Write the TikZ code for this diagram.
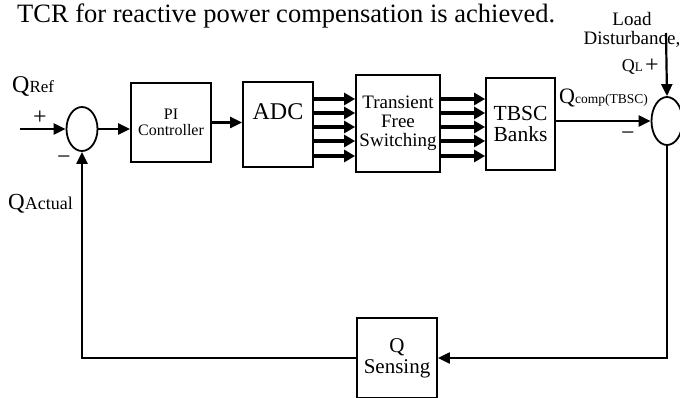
\documentclass[tikz,border=0pt]{standalone}
\usepackage{fontspec}
\setmainfont{Liberation Serif}
\usetikzlibrary{shapes.geometric}
\usetikzlibrary{arrows.meta}

\newcommand{\fsz}[1]{\fontsize{#1}{#1}\selectfont}
\newcommand{\qlabel}[3]{{\fsz{#1}Q}{\fsz{#2}#3}}

\begin{document}
\begin{tikzpicture}[x=1pt, y=-1pt,
            block/.style={draw=black, line width=1.8pt, align=center, inner sep=0pt},
            sumnode/.style={draw=black, ellipse, line width=1.8pt, inner sep=0pt, minimum width=31pt},
            signal/.style={line width=2.2pt, -{Triangle[length=12pt, width=11pt]}},
            busline/.style={line width=3.4pt, -{Triangle[length=11pt, width=12pt]}},
            sign/.style={inner sep=0pt, font=\fsz{24}},
            tag/.style={inner sep=0pt, align=center}
        ]
            \useasboundingbox (0,0) rectangle (680,398);

            % heading
            \node[tag, anchor=base west, font=\fsz{26.5}] (title) at (17,23) {TCR for reactive power compensation is achieved.};

            % summing junctions
            \node[sumnode, minimum height=44pt] (sumL) at (82,129) {};
            \node[sumnode, minimum height=48pt] (sumR) at (667,121) {};

            % blocks
            \node[block, minimum width=80pt, minimum height=79pt, font=\fsz{16}] (pi) at (171,122.5) {PI\\Controller};
            \node[block, minimum width=70pt, minimum height=85pt, font=\fsz{24}, text depth=26pt] (adc) at (278,124.5) {ADC};
            \node[block, minimum width=84pt, minimum height=97pt, font=\fsz{19}] (tfs) at (398,123.5) {Transient\\Free\\Switching};
            \node[block, minimum width=69pt, minimum height=92pt, font=\fsz{21.5}] (tbsc) at (520.5,124) {TBSC\\Banks};
            \node[block, minimum width=80pt, minimum height=80pt, font=\fsz{21}] (qs) at (397,358) {Q\\Sensing};

            % free ends
            \coordinate (qref) at (20,129);
            \coordinate (load) at (666,33);

            % forward path
            \draw[signal] (qref) -- (sumL.west);
            \draw[signal] (sumL.east) -- (sumL.east -| pi.west);
            \draw[signal] (pi.east) -- (pi.east -| adc.west);
            \foreach \y in {99, 113, 127, 141, 156}{
                \draw[busline] (adc.east |- 0,\y) -- (tfs.west |- 0,\y);
                \draw[busline] (tfs.east |- 0,\y) -- (tbsc.west |- 0,\y);
            }
            \draw[signal] (tbsc.east |- sumR) -- (sumR.west);
            \draw[signal] (load) -- (sumR.north);

            % feedback path
            \draw[signal] (sumR.south) |- (qs.east);
            \draw[signal] (qs.west) -| (sumL.south);

            % signal labels
            \node[tag, anchor=base west] (lref) at (12,93) {\qlabel{24}{17}{Ref}};
            \node[tag, anchor=base west] (lact) at (8,210) {\qlabel{23}{18}{Actual}};
            \node[tag, anchor=base west] (lcomp) at (559,104) {\qlabel{22}{13.5}{comp(TBSC)}};
            \node[tag, anchor=base east] (lql) at (643,72) {\qlabel{18}{13}{L}};
            \node[tag, font=\fsz{19}] (lload) at (632,30) {Load\\Disturbance,};

            % signs
            \node[sign] (pL) at (40,118) {+};
            \node[sign] (mL) at (64,160) {−};
            \node[sign] (pR) at (652,66) {+};
            \node[sign] (mR) at (628,136) {−};

        \end{tikzpicture}
\end{document}
